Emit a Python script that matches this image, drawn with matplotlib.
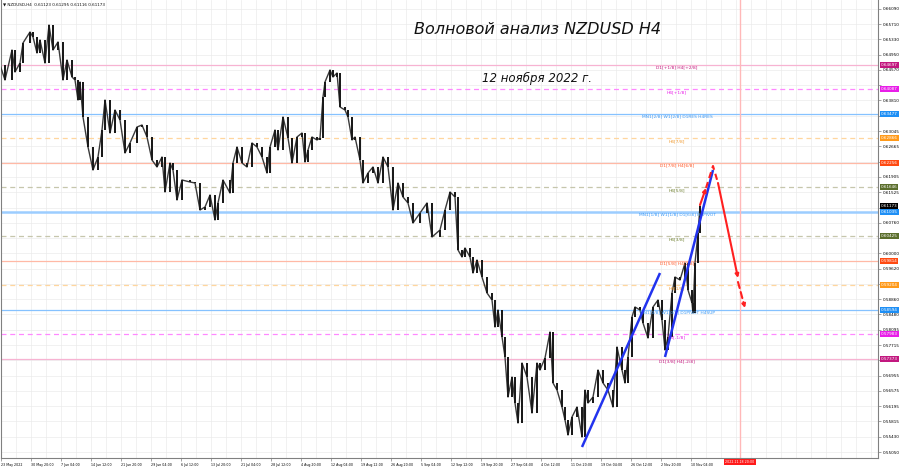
import matplotlib.pyplot as plt
import numpy as np

# NZDUSD H4 closes (bar position ~ chart pixel)
bar_x = [0, 5, 12, 15, 20, 23, 30, 33, 37, 40, 45, 49, 53, 58, 63, 67, 72, 75, 78, 80,
         83, 88, 93, 98, 102, 105, 110, 115, 120, 125, 130, 137, 142, 147, 152, 157, 162, 165, 170, 173,
         177, 182, 190, 195, 200, 205, 210, 215, 218, 223, 230, 233, 237, 242, 247, 252, 257, 262, 267, 270,
         275, 278, 283, 288, 292, 297, 302, 305, 308, 312, 317, 320, 323, 325, 330, 333, 337, 340, 345, 348,
         352, 355, 360, 363, 368, 373, 378, 383, 388, 393, 398, 403, 408, 413, 420, 427, 432, 440, 445, 450,
         455, 458, 462, 465, 470, 473, 477, 482, 487, 492, 495, 498, 502, 505, 508, 512, 515, 518, 522, 527,
         532, 537, 540, 545, 550, 553, 557, 562, 565, 568, 572, 577, 582, 585, 588, 593, 598, 603, 608, 613,
         617, 622, 625, 628, 632, 635, 640, 643, 648, 653, 658, 662, 665, 668, 672, 675, 680, 685, 688, 692,
         693, 695, 698, 700]
close = [0.64695, 0.64321, 0.65068, 0.64520, 0.64744, 0.65243, 0.65517, 0.65392, 0.64994, 0.65318,
         0.64744, 0.65691, 0.65068, 0.65268, 0.64321, 0.64819, 0.64395, 0.64321, 0.63822, 0.64271,
         0.63399, 0.62651, 0.62078, 0.62402, 0.63075, 0.63822, 0.63000, 0.63573, 0.63324, 0.62502,
         0.62751, 0.63149, 0.63199, 0.62900, 0.62327, 0.62153, 0.62402, 0.61530, 0.62252, 0.62078,
         0.61330, 0.61829, 0.61779, 0.61754, 0.61081, 0.61156, 0.61455, 0.60832, 0.61256, 0.61829,
         0.61505, 0.62252, 0.62651, 0.62252, 0.62153, 0.62751, 0.62651, 0.62402, 0.62003, 0.62651,
         0.63075, 0.62576, 0.63399, 0.62875, 0.62252, 0.62900, 0.63000, 0.62277, 0.62576, 0.62900,
         0.62826, 0.62875, 0.63897, 0.64271, 0.64570, 0.64395, 0.64495, 0.63648, 0.63573, 0.63399,
         0.62826, 0.62900, 0.62327, 0.61754, 0.62003, 0.62153, 0.61754, 0.62402, 0.62153, 0.61081,
         0.61754, 0.61405, 0.61256, 0.60757, 0.61006, 0.61256, 0.60408, 0.60583, 0.61081, 0.61530,
         0.61405, 0.60084, 0.59910, 0.60134, 0.59910, 0.59511, 0.59835, 0.59411, 0.59013, 0.58838,
         0.58165, 0.58589, 0.57916, 0.57418, 0.56421, 0.56919, 0.56271, 0.55773, 0.57268, 0.56919,
         0.56022, 0.57268, 0.57094, 0.57393, 0.58041, 0.56770, 0.56595, 0.56172, 0.55848, 0.55474,
         0.55923, 0.56172, 0.55424, 0.56595, 0.56271, 0.56421, 0.57094, 0.56770, 0.56595, 0.56172,
         0.57667, 0.57094, 0.56770, 0.57418, 0.58415, 0.58664, 0.58589, 0.58265, 0.57891, 0.58664,
         0.58838, 0.58340, 0.57592, 0.57916, 0.59013, 0.59411, 0.59337, 0.59760, 0.59088, 0.58764,
         0.58514, 0.59760, 0.60508, 0.61173]

price_ticks = ['0.66090', '0.65710', '0.65330', '0.64950', '0.64570', '0.64190', '0.63810', '0.63430',
               '0.63045', '0.62665', '0.62285', '0.61905', '0.61525', '0.61140', '0.60760', '0.60380',
               '0.60000', '0.59620', '0.59240', '0.58860', '0.58480', '0.58095', '0.57715', '0.57335',
               '0.56955', '0.56575', '0.56195', '0.55815', '0.55430', '0.55050']

date_pos = [1, 31, 61, 91, 121, 151, 181, 211, 241, 271, 301, 331, 361, 391, 421,
            451, 481, 511, 541, 571, 601, 631, 661, 691]
date_labels = ['23 May 2022', '30 May 20:00', '7 Jun 04:00', '14 Jun 12:00', '21 Jun 20:00',
               '29 Jun 04:00', '6 Jul 12:00', '13 Jul 20:00', '21 Jul 04:00', '28 Jul 12:00',
               '4 Aug 20:00', '12 Aug 04:00', '19 Aug 12:00', '26 Aug 20:00', '5 Sep 04:00',
               '12 Sep 12:00', '19 Sep 20:00', '27 Sep 04:00', '4 Oct 12:00', '11 Oct 20:00',
               '19 Oct 04:00', '26 Oct 12:00', '2 Nov 20:00', '10 Nov 04:00']

# Murrey math levels
levels = [0.64697, 0.64087, 0.63477, 0.62866, 0.62256, 0.61646, 0.61035,
          0.60425, 0.59814, 0.59204, 0.58594, 0.57983, 0.57373]
level_names = ['D1[+1/8] H4[+2/8]', 'H4[+1/8]', 'MN1[2/8] W1[2/8] D1RES H4RES', 'H4[7/8]',
               'D1[7/8] H4[6/8]', 'H4[5/8]', 'MN1[1/8] W1[1/8] D1[6/8] H4PIVOT', 'H4[3/8]',
               'D1[5/8] H4[2/8]', 'H4[1/8]', 'MN1[0/8] W1[0/8] D1PIVOT H4SUP', 'H4[-1/8]',
               'D1[3/8] H4[-2/8]']
level_kind = ['d1x', 'h4x', 'mn', 'h4o', 'd1', 'h4g', 'piv', 'h4g', 'd1', 'h4o', 'mn', 'h4x', 'd1x']

last_price = 0.61173

# wave drawings (bar, price)
blue_wave1 = ([582, 660], [0.55175, 0.59511])
blue_wave2 = ([665, 713], [0.57418, 0.62078])
red_up_solid = ([700, 706], [0.61206, 0.61629])
red_up_dash = ([706, 713, 718], [0.61629, 0.62178, 0.61754])
red_down_solid = ([718, 738], [0.61754, 0.59387])
red_down_dash = ([738, 745], [0.59287, 0.58639])

styles = {
    'd1x': dict(line='#f7b3d2', ls='-', lw=0.9, txt='#c2187f', box='#c2187f'),
    'h4x': dict(line='#ff88ff', ls=(0, (4, 3)), lw=0.9, txt='#e81ee8', box='#e81ee8'),
    'mn': dict(line='#86c2ff', ls='-', lw=0.9, txt='#3a98f5', box='#1e8ff5'),
    'h4o': dict(line='#ffd69e', ls=(0, (4, 3)), lw=0.9, txt='#f09a30', box='#ff9a1a'),
    'd1': dict(line='#ffb9a6', ls='-', lw=0.9, txt='#ff5a2a', box='#ff4a12'),
    'h4g': dict(line='#c6c6ac', ls=(0, (4, 3)), lw=0.9, txt='#6f8030', box='#5b6e2c'),
    'piv': dict(line='#9ccdff', ls='-', lw=1.8, txt='#3a98f5', box='#1e8ff5'),
}

fig = plt.figure(figsize=(9, 4.68), dpi=100)
ax = fig.add_axes([1 / 900, 10 / 468, 877 / 900, 458 / 468])
ax.set_xlim(1, 878)
ax.set_ylim(0.54901, 0.66314)

# grid
tick_vals = [float(t) for t in price_ticks]
for v in tick_vals:
    ax.axhline(v, color='#ebebeb', lw=0.5, zorder=0)
for gx in np.arange(1, 878, 15):
    ax.axvline(gx, color='#ebebeb', lw=0.5, zorder=0)

# murrey lines + labels + axis boxes
for lv, name, kind in zip(levels, level_names, level_kind):
    st = styles[kind]
    ax.axhline(lv, color=st['line'], ls=st['ls'], lw=st['lw'], zorder=1)
    ax.text(677, lv - 0.0002, name, color=st['txt'], fontsize=3.2, ha='center', va='top', zorder=4)
    ax.text(1.003, lv, f'{lv:.5f}', transform=ax.get_yaxis_transform(), color='white',
            fontsize=3.0, va='center', ha='left', zorder=6, clip_on=False,
            bbox=dict(boxstyle='square,pad=0.25', fc=st['box'], ec='none'))
ax.text(1.003, last_price, f'{last_price:.5f}', transform=ax.get_yaxis_transform(), color='white',
        fontsize=3.0, va='center', ha='left', zorder=6, clip_on=False,
        bbox=dict(boxstyle='square,pad=0.25', fc='black', ec='none'))

# forecast vertical
ax.axvline(740, color='#ffb8b8', lw=1.0, zorder=1)

# candles
opens = [close[0]] + close[:-1]
body = np.array(close) - np.array(opens)
ax.plot(bar_x, close, color='#3a3a3a', lw=1.0, zorder=3)
ax.bar(bar_x, body, bottom=opens, width=1.1, color='#1a1a1a', zorder=3)

# wave lines
ax.plot(*blue_wave1, color='#2233ee', lw=1.8, zorder=5, solid_capstyle='butt')
ax.plot(*blue_wave2, color='#2233ee', lw=1.8, zorder=5, solid_capstyle='butt')
ax.plot(*red_up_dash, color='#ff2020', lw=1.5, ls=(0, (3, 2)), zorder=5)
for seg, ls in [(red_up_solid, '-'), (red_down_solid, '-'), (red_down_dash, (0, (3, 2)))]:
    xs, ys = seg
    ax.annotate('', xy=(xs[1], ys[1]), xytext=(xs[0], ys[0]), zorder=5,
                arrowprops=dict(arrowstyle='-|>', color='#ff2020', lw=1.5, ls=ls,
                                mutation_scale=5, shrinkA=0, shrinkB=0))

# titles
ax.text(538, 0.65584, 'Волновой анализ NZDUSD H4', fontsize=11.5, style='italic',
        color='#111111', ha='center', va='center', zorder=6)
ax.text(537, 0.64349, '12 ноября 2022 г.', fontsize=8.5, style='italic',
        color='#111111', ha='center', va='center', zorder=6)
ax.text(3, 0.66190, '\u25bc NZDUSD,H4  0.61123 0.61295 0.61116 0.61173', fontsize=3,
        color='#111111', ha='left', va='center', zorder=6)

# axes: price labels hidden behind the level boxes, as in the terminal
boxed = levels + [last_price]
shown = [i for i, v in enumerate(tick_vals) if min(abs(v - b) for b in boxed) > 0.0011]
ax.yaxis.tick_right()
ax.set_yticks(tick_vals)
ax.set_yticklabels([price_ticks[i] if i in shown else '' for i in range(len(price_ticks))])
ax.set_xticks(date_pos)
ax.set_xticklabels(date_labels, ha='left')
ax.tick_params(axis='y', labelsize=3.0, length=2, width=0.4, color='#606060', pad=1.5)
ax.tick_params(axis='x', labelsize=2.3, length=2, width=0.4, color='#606060', pad=1.5)
ax.text(740, -0.004, '2022.11.18 20:00', transform=ax.get_xaxis_transform(), color='white',
        fontsize=2.3, ha='center', va='top', zorder=6, clip_on=False,
        bbox=dict(boxstyle='square,pad=0.3', fc='#ff1a1a', ec='none'))
ax.spines['top'].set_visible(False)
for side in ['left', 'right', 'bottom']:
    ax.spines[side].set_color('#808080')
    ax.spines[side].set_linewidth(0.8)

fig.savefig('out.png', dpi=100)
